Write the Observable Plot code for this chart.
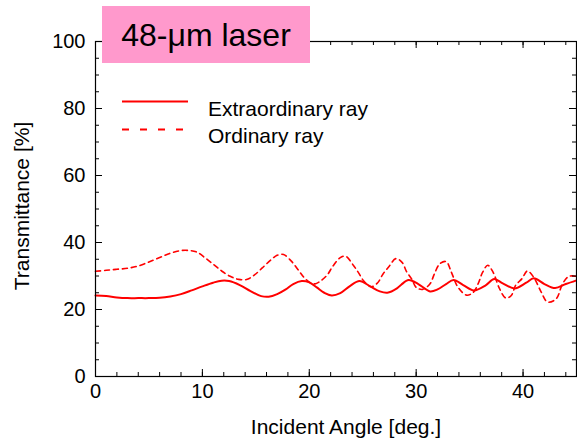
<!DOCTYPE html>
<html><head><meta charset="utf-8">
<script src="https://cdn.jsdelivr.net/npm/d3@7"></script>
<script src="https://cdn.jsdelivr.net/npm/@observablehq/plot@0.6"></script>
<style>
body{margin:0;background:#fff}
#wrap{position:relative;width:577px;height:442px;font-family:"Liberation Sans",Arial,sans-serif}
#title{position:absolute;left:102px;top:6px;width:208px;height:57px;background:#ff99cc;color:#000;font-size:32px;line-height:58px;text-align:center}
#legend{position:absolute;left:0;top:0}
</style>
</head><body>
<div id="wrap"></div>
<script>
// Extraordinary ray (solid)
const extAngles = [0,1,2,3,4,5,6,7,8,9,10,11,11.8,12.5,13.5,14.5,15.5,16.2,17,17.8,18.5,19.3,20,20.7,21.4,22.1,22.9,23.8,24.7,25.7,26.6,27.3,28.2,28.6,29.3,30.2,31.3,32.0,32.8,33.5,34.4,35.4,36.5,37.3,38.1,39.2,40.3,41.0,42.0,43.0,44.0,45.0];
const extValues = [24.2,24.0,23.6,23.4,23.4,23.4,23.5,23.9,24.6,25.7,26.9,28.0,28.6,28.5,27.3,25.5,24.0,23.8,24.6,26.0,27.6,28.5,28.1,26.6,25.0,24.2,24.9,27.0,28.5,26.9,25.4,25.0,26.3,27.4,28.8,27.6,25.4,26.0,27.6,28.8,27.3,25.7,27.2,29.1,27.8,26.3,28.0,29.3,27.6,26.4,27.6,28.7];
// Ordinary ray (dashed)
const ordAngles = [0,1,2,3,4,5,6,7,8,8.8,9.5,10.3,11.1,11.8,12.6,13.4,14.2,14.9,15.6,16.3,17.0,17.6,18.3,18.9,19.5,20.2,20.6,21.1,21.7,22.2,22.9,23.4,24.1,24.6,25.1,25.8,26.4,26.9,27.5,28.1,28.7,29.1,29.6,30.0,30.6,31.3,31.7,32.2,32.8,33.3,33.9,34.7,35.3,35.8,36.2,36.7,37.2,37.8,38.4,38.9,39.3,39.9,40.4,41.0,41.7,42.3,43.1,43.7,44.3,45.0];
const ordValues = [31.4,31.7,32.0,32.3,33.0,34.2,35.5,36.8,37.6,37.6,37.1,35.3,33.3,31.5,29.9,29.0,29.0,30.4,32.4,34.5,36.2,36.4,34.5,32.1,29.6,27.8,27.7,28.6,30.4,32.9,35.5,35.9,33.3,31.0,28.5,26.8,28.0,30.6,33.0,35.2,34.0,31.3,29.0,26.6,26.0,27.7,30.6,33.6,34.3,31.1,26.7,24.3,25.0,27.7,31.0,33.2,31.1,26.2,23.4,24.2,27.2,29.2,31.5,29.6,25.2,22.2,23.2,27.7,29.9,29.9];

const xMajor = [0,10,20,30,40];
const xMinor = [0,2,4,6,8,10,12,14,16,18,20,22,24,26,28,30,32,34,36,38,40,42,44];
const yMajor = [0,20,40,60,80,100];
const yMinor = [0,5,10,15,20,25,30,35,40,45,50,55,60,65,70,75,80,85,90,95,100];
const titleText = "48-μm laser";
const xLabel = "Incident Angle [deg.]";
const yLabel = "Transmittance [%]";
const seriesNames = ["Extraordinary ray","Ordinary ray"];

const ext = extAngles.map((a,i)=>({angle:a, t:extValues[i]}));
const ord = ordAngles.map((a,i)=>({angle:a, t:ordValues[i]}));

const W = 577, H = 442, mL = 95, mR = 1, mT = 41, mB = 66;
const innerW = W - mL - mR, innerH = H - mT - mB;

const chart = Plot.plot({
  width: W, height: H,
  marginLeft: mL, marginRight: mR, marginTop: mT, marginBottom: mB,
  style: {fontFamily: '"Liberation Sans", Arial, sans-serif', fontSize: "20px", color: "#000", background: "#fff"},
  x: {domain: [0,45], axis: null},
  y: {domain: [0,100], axis: null},
  marks: [
    Plot.line(ord, {x: "angle", y: "t", stroke: "#ff0000", strokeWidth: 1.6, strokeDasharray: "5,4", curve: "catmull-rom"}),
    Plot.line(ext, {x: "angle", y: "t", stroke: "#ff0000", strokeWidth: 2, curve: "catmull-rom"}),
    Plot.frame({stroke: "#000", strokeWidth: 1.2}),
    Plot.tickX(xMinor, {x: d=>d, insetTop: innerH - 4, stroke: "#000"}),
    Plot.tickX(xMajor, {x: d=>d, insetTop: innerH - 7, stroke: "#000"}),
    Plot.tickX(xMinor, {x: d=>d, insetBottom: innerH - 4, stroke: "#000"}),
    Plot.tickX(xMajor, {x: d=>d, insetBottom: innerH - 7, stroke: "#000"}),
    Plot.tickY(yMinor, {y: d=>d, insetRight: innerW - 4, stroke: "#000"}),
    Plot.tickY(yMajor, {y: d=>d, insetRight: innerW - 7, stroke: "#000"}),
    Plot.tickY(yMinor, {y: d=>d, insetLeft: innerW - 4, stroke: "#000"}),
    Plot.tickY(yMajor, {y: d=>d, insetLeft: innerW - 7, stroke: "#000"}),
    Plot.axisX(xMajor, {tickSize: 0, tickPadding: 7, label: null, fontSize: 20}),
    Plot.axisY(yMajor, {tickSize: 0, tickPadding: 10, label: null, fontSize: 20}),
    Plot.text([xLabel], {text: d=>d, frameAnchor: "bottom", textAnchor: "middle", lineAnchor: "middle", dy: 51, dx: 10, fill: "#000", fontSize: 21}),
    Plot.text([yLabel], {text: d=>d, frameAnchor: "left", textAnchor: "middle", lineAnchor: "middle", rotate: -90, dx: -73, dy: -3, fill: "#000", fontSize: 21})
  ]
});

const wrap = document.getElementById("wrap");
wrap.appendChild(chart);

const title = document.createElement("div");
title.id = "title";
title.textContent = titleText;
wrap.appendChild(title);

// legend overlay
const ns = "http://www.w3.org/2000/svg";
const leg = document.createElementNS(ns, "svg");
leg.setAttribute("id","legend");
leg.setAttribute("width", W); leg.setAttribute("height", 160);
const items = [{name: seriesNames[0], dash: null, y: 101.5, by: 115.7},{name: seriesNames[1], dash: "7,11", y: 129.5, by: 143}];
items.forEach(it => {
  const l = document.createElementNS(ns,"line");
  l.setAttribute("x1",122); l.setAttribute("x2",188);
  l.setAttribute("y1",it.y); l.setAttribute("y2",it.y);
  l.setAttribute("stroke","#ff0000"); l.setAttribute("stroke-width",2);
  if (it.dash) l.setAttribute("stroke-dasharray", it.dash);
  leg.appendChild(l);
  const t = document.createElementNS(ns,"text");
  t.setAttribute("x",208); t.setAttribute("y",it.by);
  t.setAttribute("font-size","21px");
  t.setAttribute("font-family",'"Liberation Sans", Arial, sans-serif');
  t.setAttribute("fill","#000");
  t.textContent = it.name;
  leg.appendChild(t);
});
wrap.appendChild(leg);
</script>
</body></html>
